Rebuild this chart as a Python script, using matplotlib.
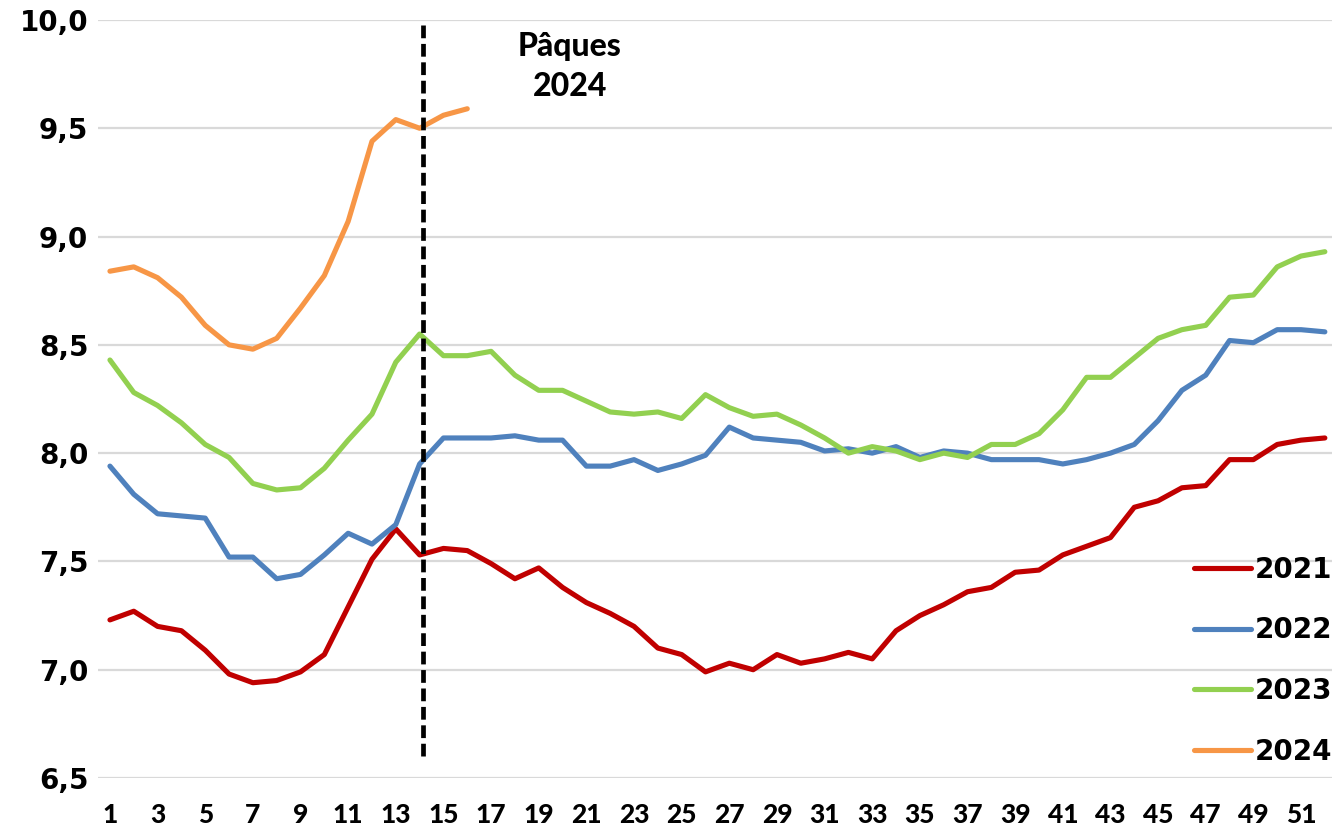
import numpy as np
import matplotlib
matplotlib.use("Agg")
import matplotlib.pyplot as plt
from matplotlib.ticker import FuncFormatter

# Data (weekly values)
weeks = np.arange(1, 53)
y2021 = [7.23, 7.27, 7.20, 7.18, 7.09, 6.98, 6.94, 6.95, 6.99, 7.07,
         7.29, 7.51, 7.65, 7.53, 7.56, 7.55, 7.49, 7.42, 7.47, 7.38,
         7.31, 7.26, 7.20, 7.10, 7.07, 6.99, 7.03, 7.00, 7.07, 7.03,
         7.05, 7.08, 7.05, 7.18, 7.25, 7.30, 7.36, 7.38, 7.45, 7.46,
         7.53, 7.57, 7.61, 7.75, 7.78, 7.84, 7.85, 7.97, 7.97, 8.04,
         8.06, 8.07]
y2022 = [7.94, 7.81, 7.72, 7.71, 7.70, 7.52, 7.52, 7.42, 7.44, 7.53,
         7.63, 7.58, 7.67, 7.95, 8.07, 8.07, 8.07, 8.08, 8.06, 8.06,
         7.94, 7.94, 7.97, 7.92, 7.95, 7.99, 8.12, 8.07, 8.06, 8.05,
         8.01, 8.02, 8.00, 8.03, 7.98, 8.01, 8.00, 7.97, 7.97, 7.97,
         7.95, 7.97, 8.00, 8.04, 8.15, 8.29, 8.36, 8.52, 8.51, 8.57,
         8.57, 8.56]
y2023 = [8.43, 8.28, 8.22, 8.14, 8.04, 7.98, 7.86, 7.83, 7.84, 7.93,
         8.06, 8.18, 8.42, 8.55, 8.45, 8.45, 8.47, 8.36, 8.29, 8.29,
         8.24, 8.19, 8.18, 8.19, 8.16, 8.27, 8.21, 8.17, 8.18, 8.13,
         8.07, 8.00, 8.03, 8.01, 7.97, 8.00, 7.98, 8.04, 8.04, 8.09,
         8.20, 8.35, 8.35, 8.44, 8.53, 8.57, 8.59, 8.72, 8.73, 8.86,
         8.91, 8.93]
y2024 = [8.84, 8.86, 8.81, 8.72, 8.59, 8.50, 8.48, 8.53, 8.67, 8.82,
         9.07, 9.44, 9.54, 9.50, 9.56, 9.59]

labels = ["2021", "2022", "2023", "2024"]
colors = ["#C00000", "#4F81BD", "#92D050", "#F79646"]

paques_week = 14.15
paques_label = "Pâques\n2024"

# Figure
fig = plt.figure(figsize=(13.32, 8.32), dpi=100)
ax = fig.add_axes([0.0736, 0.0649, 0.9264, 0.9111])

series = [y2021, y2022, y2023, y2024]
for vals, lab, col in zip(series, labels, colors):
    ax.plot(weeks[:len(vals)], vals, color=col, lw=3.7, label=lab,
            solid_capstyle="round", solid_joinstyle="round")

# Easter marker
ax.vlines(paques_week, 6.6, 10.0, colors="black", lw=3.4,
          linestyles=(0, (2.7, 1.2)), zorder=5)
ax.text(20.3, 9.785, paques_label, ha="center", va="center",
        fontsize=23, fontweight="black", family="Lato", linespacing=1.45)

# Axes styling
ax.set_xlim(0.5, 52.3)
ax.set_ylim(6.5, 10.0)
ax.set_yticks(np.arange(6.5, 10.01, 0.5))
ax.yaxis.set_major_formatter(FuncFormatter(lambda v, p: f"{v:.1f}".replace(".", ",")))
ax.set_xticks(np.arange(1, 52, 2))
ax.grid(axis="y", color="#d9d9d9", lw=1.6)
ax.set_axisbelow(True)
for s in ax.spines.values():
    s.set_visible(False)
ax.tick_params(axis="both", length=0)
ax.tick_params(axis="y", pad=7)
ax.tick_params(axis="x", pad=18)
for t in ax.get_yticklabels():
    t.set_fontsize(20)
    t.set_fontweight("bold")
    t.set_family("DejaVu Sans")
for t in ax.get_xticklabels():
    t.set_fontsize(19)
    t.set_fontweight("black")
    t.set_family("Lato")

# Legend
fig.legend(loc="upper left", bbox_to_anchor=(1194 / 1332, 1 - 556 / 832),
           frameon=False, borderpad=0, borderaxespad=0,
           handlelength=2.05, handletextpad=0.15, labelspacing=1.17,
           prop={"family": "DejaVu Sans", "weight": "bold", "size": 20})

fig.savefig("out.png", dpi=100)
